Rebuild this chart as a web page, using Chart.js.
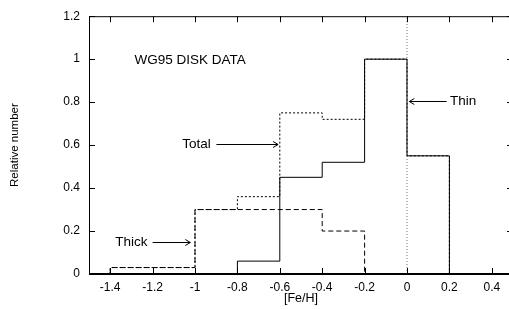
<!DOCTYPE html>
<html>
<head>
<meta charset="utf-8">
<script src="https://cdn.jsdelivr.net/npm/chart.js@4.4.0/dist/chart.umd.min.js"></script>
<style>
  html, body { margin: 0; padding: 0; background: #fff; overflow: hidden; }
  canvas { display: block; }
</style>
</head>
<body>
<canvas id="graph" width="520" height="310"></canvas>
<script>
// bin edges in [Fe/H]
const binEdges = [-1.4, -1.2, -1.0, -0.8, -0.6, -0.4, -0.2, 0.0, 0.2];
// relative number per bin (null = empty)
const thinValues  = [null, null, null, 0.06, 0.45, 0.52, 1.0, 0.55];
const thickValues = [0.03, 0.03, 0.30, 0.30, 0.30, 0.20, null, null];
const totalValues = [0.03, 0.03, 0.30, 0.36, 0.75, 0.72, 1.0, 0.55];
// solar metallicity line
const solarX = 0;

const xTicks = [-1.4, -1.2, -1.0, -0.8, -0.6, -0.4, -0.2, 0, 0.2, 0.4];
const xTickLabels = ['-1.4', '-1.2', '-1', '-0.8', '-0.6', '-0.4', '-0.2', '0', '0.2', '0.4'];
const yTicks = [0, 0.2, 0.4, 0.6, 0.8, 1.0, 1.2];
const yTickLabels = ['0', '0.2', '0.4', '0.6', '0.8', '1', '1.2'];

// labels with arrows (data units)
const arrowText   = ['Total', 'Thick', 'Thin'];
const arrowTextX  = [-0.926, -1.224, 0.203];
const arrowAlign  = ['right', 'right', 'left'];
const arrowY      = [0.605, 0.151, 0.805];
const arrowFromX  = [-0.899, -1.2, 0.187];
const arrowToX    = [-0.608, -1.022, 0.011];

const noteText = 'WG95 DISK DATA';
const noteX = -1.285;
const noteY = 0.995;

// histogram outline as a stepped line
function stepPoints(values) {
	let pts = [];
	let first = values.findIndex(v => v !== null);
	let last = values.length - 1;
	while (values[last] === null) last--;
	pts.push({x: binEdges[first], y: 0});
	for (let i = first; i <= last; i++) {
		pts.push({x: binEdges[i], y: values[i]});
	}
	pts.push({x: binEdges[last + 1], y: 0});
	return pts;
}

const font = "'Liberation Sans', Arial, Helvetica, sans-serif";

// frame, inward ticks, notes and arrows
const decorations = {
	id: 'decorations',
	afterDatasetsDraw(chart) {
		const {ctx, chartArea: a, scales: {x, y}} = chart;
		ctx.save();
		ctx.strokeStyle = '#000';
		ctx.lineWidth = 1;
		ctx.strokeRect(a.left + 0.5, a.top + 0.5, a.right - a.left - 1, a.bottom - a.top - 1);
		// bottom axis is a bit heavier
		ctx.lineWidth = 2;
		ctx.beginPath();
		ctx.moveTo(a.left, a.bottom);
		ctx.lineTo(a.right, a.bottom);
		ctx.stroke();
		ctx.lineWidth = 1;
		ctx.beginPath();
		xTicks.forEach(v => {
			let px = Math.round(x.getPixelForValue(v)) + 0.5;
			ctx.moveTo(px, a.bottom);
			ctx.lineTo(px, a.bottom - 6);
			ctx.moveTo(px, a.top);
			ctx.lineTo(px, a.top + 6);
		});
		yTicks.forEach(v => {
			let py = Math.round(y.getPixelForValue(v)) + 0.5;
			ctx.moveTo(a.left, py);
			ctx.lineTo(a.left + 6, py);
			ctx.moveTo(a.right, py);
			ctx.lineTo(a.right - 6, py);
		});
		ctx.stroke();

		ctx.fillStyle = '#000';
		ctx.font = '13.5px ' + font;
		ctx.textBaseline = 'middle';
		ctx.textAlign = 'left';
		ctx.fillText(noteText, x.getPixelForValue(noteX), y.getPixelForValue(noteY));

		for (let i = 0; i < arrowText.length; i++) {
			let py = Math.round(y.getPixelForValue(arrowY[i])) + 0.5;
			let x0 = x.getPixelForValue(arrowFromX[i]);
			let x1 = x.getPixelForValue(arrowToX[i]);
			let dir = x1 > x0 ? 1 : -1;
			ctx.textAlign = arrowAlign[i];
			ctx.fillText(arrowText[i], x.getPixelForValue(arrowTextX[i]), py);
			ctx.beginPath();
			ctx.moveTo(x0, py);
			ctx.lineTo(x1, py);
			ctx.moveTo(x1 - dir * 5, py - 3);
			ctx.lineTo(x1, py);
			ctx.lineTo(x1 - dir * 5, py + 3);
			ctx.stroke();
		}
		ctx.restore();
	}
};

let config = {
	type: 'line',
	data: {
		datasets: [{
			label: 'Solar',
			data: [{x: solarX, y: yTicks[0]}, {x: solarX, y: yTicks[yTicks.length - 1]}],
			borderColor: '#777',
			borderWidth: 1,
			borderDash: [1, 2],
			pointRadius: 0
		}, {
			label: 'Total',
			data: stepPoints(totalValues),
			stepped: 'before',
			borderColor: '#000',
			borderWidth: 1,
			borderDash: [2, 2],
			pointRadius: 0
		}, {
			label: 'Thick',
			data: stepPoints(thickValues),
			stepped: 'before',
			borderColor: '#000',
			borderWidth: 1,
			borderDash: [5, 3],
			pointRadius: 0
		}, {
			label: 'Thin',
			data: stepPoints(thinValues),
			stepped: 'before',
			borderColor: '#000',
			borderWidth: 1,
			pointRadius: 0
		}]
	},
	options: {
		responsive: false,
		animation: false,
		devicePixelRatio: 1,
		layout: {
			padding: {top: 10, right: 7, left: 0, bottom: 0}
		},
		plugins: {
			legend: {display: false},
			tooltip: {enabled: false}
		},
		scales: {
			x: {
				type: 'linear',
				min: -1.5,
				max: 0.5,
				afterBuildTicks: s => { s.ticks = xTicks.map(v => ({value: v})); },
				afterFit: s => { s.height = 36; },
				grid: {display: false, drawTicks: false},
				border: {display: false},
				ticks: {
					color: '#000',
					padding: 6,
					maxRotation: 0,
					autoSkip: false,
					font: {family: font, size: 12},
					callback: (v, i) => xTickLabels[i]
				},
				title: {
					display: true,
					text: '[Fe/H]',
					color: '#000',
					font: {family: font, size: 12.5},
					padding: {top: 0, bottom: 4}
				}
			},
			y: {
				type: 'linear',
				min: 0,
				max: 1.2,
				afterBuildTicks: s => { s.ticks = yTicks.map(v => ({value: v})); },
				afterFit: s => { s.width = 89; },
				grid: {display: false, drawTicks: false},
				border: {display: false},
				ticks: {
					color: '#000',
					padding: 9,
					autoSkip: false,
					font: {family: font, size: 12},
					callback: (v, i) => yTickLabels[i]
				},
				title: {
					display: true,
					text: 'Relative number',
					color: '#000',
					font: {family: font, size: 11.5},
					padding: {top: 8, bottom: 0}
				}
			}
		}
	},
	plugins: [decorations]
};

var ctx = document.getElementById('graph').getContext('2d');
window.myChart = new Chart(ctx, config);
</script>
</body>
</html>
